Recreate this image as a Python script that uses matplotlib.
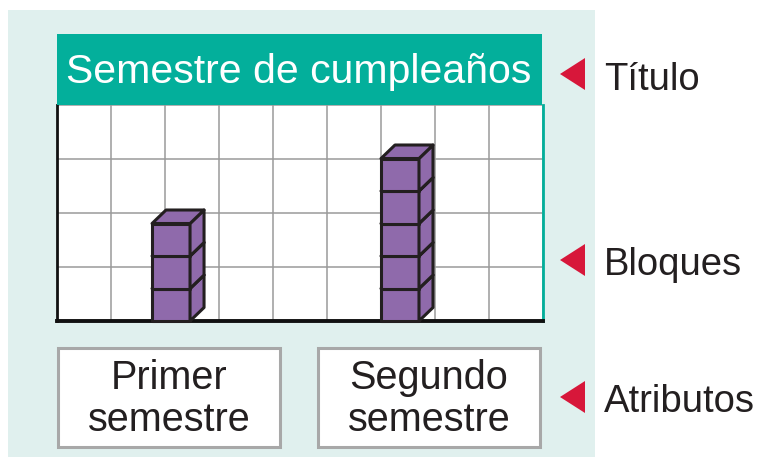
import matplotlib
matplotlib.use("Agg")
import matplotlib.pyplot as plt
import numpy as np
from matplotlib.patches import Rectangle, Polygon

plt.rcParams['font.family'] = ['Liberation Sans', 'DejaVu Sans']

# ---- data ----
title = "Semestre de cumpleaños"
categories = ["Primer\nsemestre", "Segundo\nsemestre"]
counts = [3, 5]
side_labels = ["Título", "Bloques", "Atributos"]

# ---- layout / style ----
W, H = 761, 459
stack_left = [1.76, 6.0]          # grid-column units
box_x = [(58, 280), (318, 540)]   # pixel extents of attribute boxes
PANEL = '#e0f0ee'
TEAL = '#03af9b'
PURPLE = '#8f6aab'
EDGE = '#231f20'
RED = '#d7173a'
TXT = '#231f20'

def fx(x):
    return x / W

def fy(y):
    return 1 - y / H

fig = plt.figure(figsize=(W / 100, H / 100), dpi=100)
fig.patch.set_facecolor('white')

# panel background
fig.patches.append(Rectangle((fx(8), fy(457)), (595 - 8) / W, (457 - 10) / H,
                             transform=fig.transFigure, facecolor=PANEL,
                             edgecolor='none', zorder=-10))

# title bar
fig.patches.append(Rectangle((fx(57), fy(105)), (542 - 57) / W, (105 - 34) / H,
                             transform=fig.transFigure, facecolor=TEAL,
                             edgecolor='none', zorder=1))
fig.text(fx(299), fy(83), title, color='white', fontsize=29.5,
         ha='center', va='baseline', zorder=2)

# chart axes (grid)
ax = fig.add_axes([fx(57), fy(321), 486 / W, 216 / H])
ax.set_zorder(0)
ax.set_facecolor('white')
cube_px = 32.5
ymax = 216 / cube_px
ax.set_xlim(0, 9)
ax.set_ylim(0, ymax)
ax.set_xticks(np.arange(0, 10))
ax.set_yticks(np.linspace(0, ymax, 5))
ax.grid(True, color='#9a9a9a', lw=1.1)
ax.tick_params(length=0, labelbottom=False, labelleft=False)
ax.spines['top'].set_visible(False)
ax.spines['left'].set_color('#111111')
ax.spines['left'].set_linewidth(2.0)
ax.spines['bottom'].set_color('#111111')
ax.spines['bottom'].set_linewidth(2.8)
ax.spines['right'].set_color(TEAL)
ax.spines['right'].set_linewidth(2.0)
ax.set_axisbelow(True)

w = 38 / 54
dx = 14 / 54
dy = 13.5 / cube_px
for left, n in zip(stack_left, counts):
    for k in range(n):
        y0 = k
        kw = dict(facecolor=PURPLE, edgecolor=EDGE, lw=2.2, joinstyle='round',
                  zorder=3 + k, clip_on=False)
        ax.add_patch(Rectangle((left, y0), w, 1, **kw))
        ax.add_patch(Polygon([(left + w, y0), (left + w + dx, y0 + dy),
                              (left + w + dx, y0 + 1 + dy), (left + w, y0 + 1)],
                             closed=True, **kw))
        ax.add_patch(Polygon([(left, y0 + 1), (left + dx, y0 + 1 + dy),
                              (left + w + dx, y0 + 1 + dy), (left + w, y0 + 1)],
                             closed=True, **kw))

# attribute boxes
for (x0, x1), lab in zip(box_x, categories):
    fig.patches.append(Rectangle((fx(x0), fy(447)), (x1 - x0) / W, (447 - 348) / H,
                                 transform=fig.transFigure, facecolor='white',
                                 edgecolor='#a8a8a8', lw=2.2, zorder=1))
    fig.text(fx((x0 + x1) / 2), fy(399), lab, color=TXT, fontsize=28.5,
             ha='center', va='center', ma='center', linespacing=1.12, zorder=2)

# side labels with red triangles
side_y = [74, 260, 397]
side_base = [90, 275, 412]
for lab, yc, yb in zip(side_labels, side_y, side_base):
    fig.patches.append(Polygon([(fx(560), fy(yc)), (fx(585), fy(yc - 16)),
                                (fx(585), fy(yc + 16))], closed=True,
                               transform=fig.transFigure, facecolor=RED,
                               edgecolor='none', zorder=2))
    fig.text(fx(604), fy(yb), lab, color=TXT, fontsize=27.5,
             ha='left', va='baseline', zorder=2)

fig.savefig('out.png', dpi=100)
